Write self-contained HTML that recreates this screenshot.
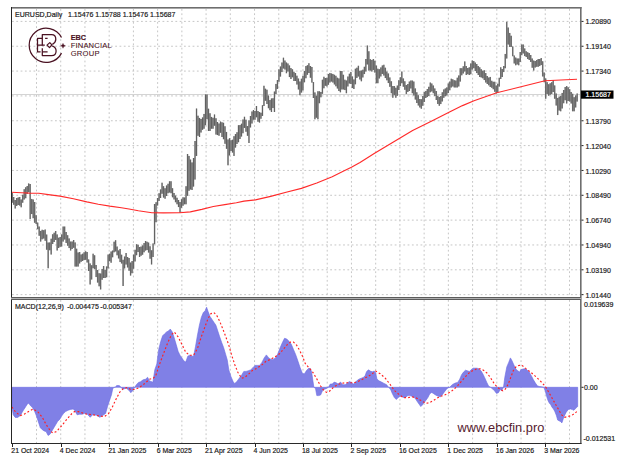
<!DOCTYPE html>
<html><head><meta charset="utf-8"><style>
html,body{margin:0;padding:0;background:#fff;width:625px;height:465px;overflow:hidden}
svg text{font-family:"Liberation Sans",sans-serif}
</style></head><body>
<svg width="625" height="465" viewBox="0 0 625 465" style="position:absolute;left:0;top:0">
<g stroke="#c6c6c6" stroke-width="1" stroke-dasharray="1.8 2.5" fill="none"><line x1="36.5" y1="9" x2="36.5" y2="297" /><line x1="36.5" y1="300" x2="36.5" y2="443" /><line x1="60.72" y1="9" x2="60.72" y2="297" /><line x1="60.72" y1="300" x2="60.72" y2="443" /><line x1="84.95" y1="9" x2="84.95" y2="297" /><line x1="84.95" y1="300" x2="84.95" y2="443" /><line x1="109.18" y1="9" x2="109.18" y2="297" /><line x1="109.18" y1="300" x2="109.18" y2="443" /><line x1="133.41" y1="9" x2="133.41" y2="297" /><line x1="133.41" y1="300" x2="133.41" y2="443" /><line x1="157.63" y1="9" x2="157.63" y2="297" /><line x1="157.63" y1="300" x2="157.63" y2="443" /><line x1="181.86" y1="9" x2="181.86" y2="297" /><line x1="181.86" y1="300" x2="181.86" y2="443" /><line x1="206.09" y1="9" x2="206.09" y2="297" /><line x1="206.09" y1="300" x2="206.09" y2="443" /><line x1="230.31" y1="9" x2="230.31" y2="297" /><line x1="230.31" y1="300" x2="230.31" y2="443" /><line x1="254.54" y1="9" x2="254.54" y2="297" /><line x1="254.54" y1="300" x2="254.54" y2="443" /><line x1="278.77" y1="9" x2="278.77" y2="297" /><line x1="278.77" y1="300" x2="278.77" y2="443" /><line x1="302.99" y1="9" x2="302.99" y2="297" /><line x1="302.99" y1="300" x2="302.99" y2="443" /><line x1="327.22" y1="9" x2="327.22" y2="297" /><line x1="327.22" y1="300" x2="327.22" y2="443" /><line x1="351.45" y1="9" x2="351.45" y2="297" /><line x1="351.45" y1="300" x2="351.45" y2="443" /><line x1="375.68" y1="9" x2="375.68" y2="297" /><line x1="375.68" y1="300" x2="375.68" y2="443" /><line x1="399.9" y1="9" x2="399.9" y2="297" /><line x1="399.9" y1="300" x2="399.9" y2="443" /><line x1="424.13" y1="9" x2="424.13" y2="297" /><line x1="424.13" y1="300" x2="424.13" y2="443" /><line x1="448.36" y1="9" x2="448.36" y2="297" /><line x1="448.36" y1="300" x2="448.36" y2="443" /><line x1="472.58" y1="9" x2="472.58" y2="297" /><line x1="472.58" y1="300" x2="472.58" y2="443" /><line x1="496.81" y1="9" x2="496.81" y2="297" /><line x1="496.81" y1="300" x2="496.81" y2="443" /><line x1="521.04" y1="9" x2="521.04" y2="297" /><line x1="521.04" y1="300" x2="521.04" y2="443" /><line x1="545.26" y1="9" x2="545.26" y2="297" /><line x1="545.26" y1="300" x2="545.26" y2="443" /><line x1="569.49" y1="9" x2="569.49" y2="297" /><line x1="569.49" y1="300" x2="569.49" y2="443" /><line x1="12" y1="21.4" x2="580" y2="21.4" /><line x1="12" y1="46.24" x2="580" y2="46.24" /><line x1="12" y1="71.08" x2="580" y2="71.08" /><line x1="12" y1="95.92" x2="580" y2="95.92" /><line x1="12" y1="120.76" x2="580" y2="120.76" /><line x1="12" y1="145.6" x2="580" y2="145.6" /><line x1="12" y1="170.44" x2="580" y2="170.44" /><line x1="12" y1="195.28" x2="580" y2="195.28" /><line x1="12" y1="220.12" x2="580" y2="220.12" /><line x1="12" y1="244.96" x2="580" y2="244.96" /><line x1="12" y1="269.8" x2="580" y2="269.8" /><line x1="12" y1="294.64" x2="580" y2="294.64" /></g>
<line x1="12" y1="94.5" x2="580" y2="94.5" stroke="#d4d4d4" stroke-width="1"/>
<polygon points="11.9,387.3 11.9,407.0 13.2,414.8 15.2,417.4 17.7,417.4 20.3,415.5 22.9,411.0 25.5,407.0 27.4,403.9 28.7,403.2 30.6,405.8 32.6,407.7 34.5,411.0 36.5,416.1 38.4,421.9 40.3,427.7 42.3,429.7 44.2,431.0 46.1,431.6 48.1,435.5 50.0,434.2 51.9,431.0 53.9,427.7 55.8,424.5 57.7,421.3 59.7,419.4 61.6,416.1 63.5,413.5 65.5,411.6 68.0,410.3 70.6,409.4 73.2,409.0 75.2,411.0 77.1,414.8 79.7,414.2 82.3,414.2 84.8,413.3 87.4,414.3 90.2,417.3 92.7,414.7 96.6,415.3 99.8,417.3 103.0,415.3 105.6,413.4 107.6,406.3 109.5,400.5 111.5,394.7 112.7,388.9 114.0,387.3 115.3,387.3 116.6,385.6 119.2,385.6 121.1,387.3 122.4,388.9 123.7,388.9 126.3,388.2 128.9,390.2 130.8,392.7 132.7,390.8 134.7,387.3 136.6,384.4 138.5,382.4 140.5,381.8 143.1,379.8 145.6,379.2 147.6,377.3 149.5,381.1 151.0,381.4 152.9,382.3 154.8,369.7 156.8,363.9 158.7,349.4 160.7,341.6 162.6,335.8 164.5,333.9 166.5,332.0 168.4,331.0 170.3,329.1 172.3,332.0 174.2,337.8 176.2,344.6 178.1,351.3 180.0,355.2 182.0,358.1 183.9,361.0 185.8,362.0 187.8,356.2 189.7,355.2 191.6,356.2 193.6,356.2 195.5,346.5 197.5,334.9 199.4,325.2 201.3,317.4 203.3,312.6 205.2,310.7 206.6,307.2 208.1,311.6 210.0,316.5 212.0,319.4 213.9,322.3 215.9,325.2 217.8,331.0 219.7,336.8 221.7,342.6 223.6,347.5 225.8,354.9 227.3,360.1 228.8,369.9 231.0,376.7 233.3,382.0 234.8,383.5 237.1,381.2 239.3,378.2 241.6,375.2 243.8,371.4 246.1,371.4 248.4,370.7 250.6,369.9 252.9,367.7 255.1,365.4 257.4,365.4 259.7,365.4 261.9,362.4 264.2,357.9 266.4,354.9 268.7,357.9 271.0,359.4 273.2,359.4 275.5,357.9 277.7,354.1 280.0,348.1 282.3,342.8 284.5,338.3 286.8,339.0 289.0,341.3 291.3,344.3 293.5,349.6 295.8,354.9 298.1,361.6 300.0,367.3 301.3,370.5 302.6,373.7 304.5,373.7 306.5,370.5 308.4,368.5 310.3,368.5 311.6,371.8 312.9,380.8 313.9,387.3 315.5,388.5 316.8,395.6 318.7,395.6 320.6,395.0 322.6,390.5 324.5,389.2 326.5,388.5 328.4,387.3 330.3,384.0 332.3,384.0 334.2,382.1 336.1,382.7 338.1,384.0 340.6,382.1 342.6,384.7 345.2,384.7 347.7,382.7 349.7,381.5 351.6,382.7 353.5,384.0 355.5,382.1 357.4,380.2 359.4,378.9 361.3,378.2 363.2,377.6 365.2,375.6 366.5,371.8 368.4,369.8 370.3,371.1 372.3,371.8 374.2,371.1 375.6,372.4 376.9,378.9 378.9,380.8 381.5,382.1 384.0,383.4 386.6,384.7 388.5,387.3 390.5,389.2 392.4,393.7 394.4,397.6 396.3,399.5 398.2,397.6 400.2,396.3 402.1,396.9 404.0,397.6 406.0,396.9 407.9,395.6 409.8,395.6 411.8,396.3 413.7,396.9 415.6,398.9 417.6,402.1 419.5,404.7 420.8,406.6 422.1,405.3 424.0,402.7 426.0,400.2 427.9,397.6 429.8,393.7 431.8,392.4 433.7,393.7 435.6,395.0 438.2,396.3 440.2,396.9 442.1,395.0 444.0,392.4 446.0,389.8 447.9,387.9 449.8,387.3 450.6,386.3 452.6,384.4 455.2,383.1 457.7,382.4 459.7,379.2 461.6,374.7 463.5,372.1 465.5,370.2 467.4,370.8 469.4,371.5 471.3,369.5 473.2,368.2 475.2,368.2 477.1,368.2 479.0,368.9 481.0,370.8 482.9,374.0 484.8,377.9 486.8,382.4 488.7,386.3 490.6,387.3 492.6,388.9 494.5,390.8 496.5,393.4 498.4,392.7 500.3,389.5 501.6,390.8 503.5,387.3 504.8,377.3 506.8,366.9 508.7,362.4 510.4,357.9 511.9,360.5 513.9,365.0 515.8,368.9 517.7,370.8 519.7,372.1 520.7,369.8 522.8,369.1 524.9,368.7 527.0,369.8 529.1,371.9 531.2,375.4 533.3,379.6 535.4,383.1 537.5,385.9 539.6,386.6 541.7,386.8 543.8,387.3 545.2,390.8 546.6,396.3 548.0,400.5 549.4,403.3 550.8,404.7 552.1,407.5 553.5,408.9 554.9,411.7 556.3,415.2 557.7,420.1 559.1,420.8 560.5,421.5 561.9,422.9 563.3,418.7 564.7,415.2 566.1,412.4 568.2,409.6 570.3,408.9 572.4,409.6 573.8,410.3 575.2,408.9 576.6,407.5 577.7,406.5 577.7,387.3" fill="#8080e6" stroke="#6a6ae4" stroke-width="0.6"/>
<polyline points="11.9,407.0 15.8,412.3 20.3,415.5 24.2,414.2 29.4,411.0 33.2,409.0 37.7,411.6 42.3,417.4 46.1,424.5 50.0,430.3 52.6,432.9 56.5,431.6 61.6,425.8 66.8,419.4 71.9,413.5 74.5,411.6 78.4,411.6 82.3,412.9 86.3,414.0 92.7,414.7 99.2,416.0 104.4,416.6 108.2,414.0 112.1,407.6 116.0,399.2 119.8,392.1 123.7,388.2 127.6,387.6 130.8,389.5 134.7,389.5 139.2,387.6 144.4,383.7 149.5,379.2 153.4,378.2 155.8,375.5 159.7,363.9 163.6,353.3 167.4,343.6 171.3,334.9 174.2,332.0 178.1,336.8 182.0,344.6 185.8,352.3 189.7,355.2 193.6,355.2 197.5,348.4 201.3,336.8 205.2,326.1 208.1,318.4 211.0,313.6 213.9,312.6 216.8,315.5 219.7,321.3 223.6,331.0 226.5,338.7 228.8,345.1 231.8,355.6 234.8,364.7 237.8,372.2 241.6,378.2 244.6,377.5 248.4,374.4 252.1,370.7 256.6,368.4 261.2,365.4 265.7,361.6 270.2,359.4 274.7,357.1 279.2,354.1 283.8,348.8 287.5,344.3 290.5,342.1 293.5,342.1 296.6,345.1 299.6,350.3 302.6,356.4 305.2,363.4 309.0,367.9 312.9,372.4 316.8,378.9 320.6,386.0 323.9,390.5 326.5,392.4 329.7,391.1 333.5,387.3 337.4,384.7 341.3,383.4 345.2,382.7 349.0,382.7 352.9,382.7 356.8,382.1 360.6,380.2 364.5,378.2 368.4,376.3 372.3,373.7 375.6,371.1 380.2,373.7 385.3,378.2 389.8,384.0 394.4,390.5 398.9,394.4 403.4,397.6 407.9,397.6 412.4,396.9 416.9,398.2 421.5,400.8 426.0,403.4 429.2,402.7 433.1,400.8 436.9,398.2 440.8,396.3 444.7,395.0 448.5,393.1 452.4,390.5 455.8,387.5 457.7,385.6 461.6,381.1 465.5,376.6 469.4,372.7 473.2,370.2 477.1,368.9 480.3,368.9 483.5,370.2 487.4,373.4 490.6,377.9 493.9,383.1 497.1,386.9 500.3,389.5 502.9,390.8 505.5,388.9 508.1,384.4 510.6,377.9 513.2,370.8 515.8,367.0 518.4,365.6 521.6,365.0 525.6,368.4 531.2,372.6 536.8,377.5 542.4,383.1 545.9,387.3 548.7,392.2 551.5,397.0 554.2,401.9 557.0,406.8 559.8,411.7 561.9,415.2 564.7,417.3 567.5,416.6 570.3,415.9 573.1,414.5 575.9,412.4 577.7,411.0" stroke="#ff2020" stroke-width="1.15" fill="none" stroke-dasharray="1.9 2.1"/>
<path d="M12.20 193.0V202.7M13.70 197.0V204.7M15.20 200.0V208.5M16.70 198.0V206.0M18.19 197.4V205.0M19.69 197.0V205.6M21.19 199.5V207.3M22.69 194.8V202.7M24.19 189.2V199.5M25.69 187.3V198.2M27.19 186.0V193.9M28.68 183.4V192.1M30.18 184.0V218.9M31.68 198.9V214.1M33.18 199.5V218.2M34.68 202.0V222.7M36.18 215.3V224.0M37.68 222.6V229.2M39.17 226.6V235.8M40.67 230.9V241.6M42.17 229.8V239.3M43.67 230.2V238.5M45.17 229.5V240.8M46.67 234.6V249.7M48.17 242.6V268.2M49.66 242.4V250.2M51.16 238.7V254.5M52.66 234.3V244.0M54.16 232.7V242.0M55.66 231.0V239.9M57.16 234.4V250.5M58.66 237.7V248.0M60.16 237.0V246.8M61.65 234.4V246.5M63.15 226.6V241.6M64.65 226.6V239.5M66.15 232.0V242.9M67.65 235.2V245.7M69.15 238.4V248.1M70.65 241.6V250.5M72.14 241.6V249.0M73.64 240.0V247.8M75.14 242.4V266.6M76.64 248.7V266.6M78.14 252.5V266.6M79.64 252.0V263.4M81.14 254.5V261.8M82.63 253.7V261.0M84.13 252.3V260.1M85.63 251.3V259.8M87.13 252.0V262.5M88.63 259.4V271.0M90.13 263.4V284.4M91.63 265.2V279.5M93.12 253.7V268.2M94.62 255.3V268.9M96.12 265.0V277.1M97.62 270.0V282.6M99.12 273.2V286.3M100.62 273.5V289.4M102.12 268.9V279.7M103.61 266.0V278.0M105.11 269.8V278.0M106.61 266.4V277.3M108.11 254.6V268.4M109.61 253.7V261.2M111.11 251.5V262.7M112.61 250.6V257.3M114.10 241.7V252.3M115.60 240.2V251.4M117.10 246.6V255.3M118.60 250.4V258.4M120.10 249.0V262.1M121.60 254.7V263.5M123.10 259.8V286.0M124.59 256.6V268.4M126.09 253.0V264.5M127.59 257.0V267.4M129.09 258.0V270.7M130.59 262.6V275.6M132.09 261.1V273.2M133.59 254.7V268.7M135.09 249.8V261.4M136.58 244.2V255.2M138.08 244.8V252.1M139.58 247.0V257.0M141.08 246.6V255.7M142.58 245.4V254.7M144.08 243.1V252.3M145.58 241.0V250.6M147.07 241.8V250.1M148.57 242.6V252.6M150.07 246.3V258.7M151.57 250.3V264.4M153.07 243.4V257.0M154.57 204.0V244.2M156.07 202.2V222.2M157.56 198.0V205.5M159.06 193.2V200.9M160.56 189.4V198.0M162.06 182.7V193.7M163.56 186.2V197.6M165.06 188.3V198.7M166.56 185.5V196.0M168.05 183.8V193.2M169.55 181.3V192.5M171.05 181.3V193.2M172.55 188.2V197.3M174.05 193.0V199.4M175.55 195.6V202.2M177.05 197.8V204.3M178.54 200.0V207.1M180.04 202.1V212.7M181.54 199.2V207.8M183.04 197.3V205.7M184.54 197.5V204.3M186.04 186.2V204.3M187.54 154.0V195.8M189.03 155.9V190.8M190.53 159.6V189.4M192.03 162.4V190.0M193.53 158.0V186.6M195.03 141.0V179.5M196.53 108.6V155.9M198.03 115.7V135.8M199.52 117.9V137.0M201.02 119.0V132.5M202.52 117.4V129.8M204.02 113.9V128.7M205.52 94.4V125.2M207.02 94.4V119.3M208.52 108.7V131.0M210.02 113.3V131.0M211.51 116.9V128.7M213.01 117.8V128.7M214.51 114.5V125.7M216.01 118.3V134.6M217.51 122.0V135.1M219.01 123.5V135.8M220.51 121.6V132.8M222.00 122.3V137.0M223.50 122.8V139.2M225.00 126.3V143.8M226.50 131.9V148.8M228.00 139.5V165.3M229.50 138.2V155.4M231.00 140.2V151.0M232.49 139.7V152.6M233.99 136.2V155.9M235.49 134.1V147.6M236.99 132.2V144.0M238.49 125.2V142.2M239.99 125.1V139.0M241.49 123.7V136.5M242.98 119.5V133.2M244.48 116.8V127.9M245.98 119.7V131.7M247.48 126.1V135.8M248.98 120.4V143.0M250.48 116.0V127.4M251.98 111.5V123.5M253.47 110.0V119.7M254.97 111.0V119.7M256.47 106.0V117.3M257.97 111.0V121.7M259.47 112.0V122.6M260.97 112.7V118.7M262.47 105.2V115.9M263.96 85.8V106.0M265.46 88.7V100.8M266.96 89.7V104.0M268.46 95.5V108.2M269.96 100.1V110.2M271.46 98.4V112.0M272.96 98.2V108.1M274.45 91.6V112.0M275.95 83.9V94.1M277.45 80.0V88.9M278.95 69.4V81.7M280.45 66.5V76.6M281.95 62.6V72.1M283.45 57.7V68.5M284.95 60.6V69.5M286.44 62.5V73.2M287.94 63.5V71.4M289.44 65.4V77.1M290.94 68.1V79.0M292.44 69.3V77.3M293.94 71.8V81.0M295.44 73.0V81.0M296.93 75.7V84.5M298.43 78.6V89.4M299.93 81.5V95.2M301.43 78.7V92.6M302.93 75.8V90.5M304.43 71.0V82.3M305.93 66.1V78.2M307.42 65.2V74.8M308.92 63.2V73.0M310.42 66.0V77.7M311.92 67.0V82.6M313.42 82.1V98.0M314.92 92.4V119.3M316.42 95.6V117.7M317.91 91.3V119.3M319.41 91.3V103.2M320.91 92.0V97.3M322.41 79.7V93.8M323.91 76.8V88.3M325.41 78.0V85.8M326.91 77.7V86.4M328.40 73.9V84.8M329.90 72.9V82.5M331.40 73.4V81.6M332.90 73.9V82.5M334.40 74.8V84.4M335.90 75.8V86.3M337.40 77.7V88.5M338.89 78.4V91.0M340.39 71.0V92.3M341.89 71.0V89.4M343.39 74.8V89.4M344.89 79.7V90.1M346.39 80.5V93.2M347.89 76.6V86.4M349.38 73.7V83.5M350.88 71.9V84.0M352.38 76.4V88.1M353.88 79.4V89.0M355.38 68.7V84.3M356.88 67.7V77.9M358.38 65.8V76.5M359.88 70.8V79.4M361.37 70.6V81.3M362.87 69.7V77.4M364.37 66.8V74.1M365.87 59.0V71.4M367.37 45.5V64.4M368.87 51.3V70.6M370.37 59.2V70.6M371.86 60.0V71.6M373.36 59.0V69.9M374.86 60.7V72.6M376.36 65.6V83.2M377.86 68.7V83.2M379.36 69.2V78.4M380.86 67.4V76.4M382.35 65.4V73.9M383.85 64.8V75.6M385.35 67.7V78.1M386.85 71.6V80.3M388.35 73.5V83.1M389.85 77.4V86.8M391.35 81.3V93.2M392.84 86.1V97.7M394.34 86.1V95.2M395.84 87.8V97.7M397.34 85.6V95.8M398.84 80.2V90.0M400.34 77.2V86.1M401.84 71.6V83.2M403.33 78.4V86.7M404.83 81.3V89.8M406.33 85.1V93.9M407.83 84.0V91.9M409.33 81.6V91.0M410.83 80.6V88.4M412.33 80.6V93.2M413.82 81.6V95.4M415.32 88.4V99.6M416.82 92.3V103.0M418.32 95.2V105.5M419.82 99.0V107.4M421.32 99.2V108.7M422.82 95.9V105.8M424.31 92.1V101.9M425.81 90.9V98.0M427.31 89.1V97.1M428.81 86.8V96.1M430.31 82.6V92.3M431.81 83.5V91.4M433.31 85.5V93.2M434.81 88.4V96.1M436.30 91.1V100.0M437.80 95.8V103.9M439.30 97.0V105.8M440.80 96.1V104.1M442.30 92.3V101.4M443.80 89.4V97.8M445.30 88.4V96.3M446.79 87.4V95.4M448.29 83.5V93.1M449.79 81.6V90.3M451.29 78.7V87.4M452.79 79.3V86.4M454.29 80.2V87.4M455.79 80.6V87.4M457.28 77.7V87.4M458.78 75.4V86.4M460.28 68.2V81.6M461.78 68.2V75.3M463.28 66.3V73.4M464.78 61.4V71.4M466.28 66.1V75.0M467.77 68.0V74.2M469.27 67.3V75.0M470.77 63.4V74.3M472.27 60.5V69.5M473.77 61.1V68.2M475.27 62.6V71.1M476.77 64.0V73.1M478.26 66.0V75.0M479.76 67.3V77.0M481.26 69.2V77.4M482.76 70.7V78.3M484.26 70.2V80.1M485.76 73.1V82.5M487.26 76.0V84.0M488.75 77.6V85.3M490.25 76.9V86.9M491.75 80.8V87.8M493.25 81.8V89.2M494.75 81.8V91.8M496.25 85.5V93.4M497.75 83.8V92.4M499.24 77.8V86.6M500.74 67.3V78.9M502.24 69.1V77.0M503.74 66.0V72.1M505.24 53.9V68.2M506.74 21.8V58.5M508.24 27.6V44.5M509.74 32.9V46.9M511.23 35.8V46.9M512.73 46.4V56.2M514.23 55.6V63.4M515.73 57.6V65.3M517.23 58.5V64.4M518.73 58.5V65.3M520.23 52.0V61.9M521.72 44.5V55.2M523.22 44.5V53.4M524.72 48.4V56.1M526.22 51.3V57.1M527.72 52.2V59.0M529.22 53.1V60.0M530.72 55.0V61.9M532.21 58.5V67.7M533.71 60.6V70.6M535.21 61.0V67.5M536.71 60.0V66.8M538.21 59.0V66.8M539.71 59.0V66.1M541.21 58.0V65.1M542.70 61.3V76.4M544.20 72.6V82.2M545.70 78.4V98.7M547.20 82.2V93.9M548.70 84.2V95.8M550.20 83.2V94.8M551.70 82.2V93.9M553.19 80.3V92.0M554.69 85.4V98.7M556.19 93.6V105.5M557.69 97.9V115.1M559.19 96.7V110.5M560.69 95.8V111.3M562.19 92.9V108.4M563.68 90.0V103.2M565.18 87.1V100.2M566.68 86.1V103.5M568.18 87.3V101.1M569.68 89.2V101.6M571.18 92.1V103.5M572.68 93.8V111.3M574.17 97.2V111.3M575.67 95.4V107.4M577.17 93.5V101.6" stroke="#9c9c9c" stroke-width="1.5" fill="none"/><path d="M12.20 193.0V202.7M13.70 197.0V204.7M15.20 200.0V208.5M16.70 198.0V206.0M18.19 197.4V205.0M19.69 197.0V205.6M21.19 199.5V207.3M22.69 194.8V202.7M24.19 189.2V199.5M25.69 187.3V198.2M27.19 186.0V193.9M28.68 183.4V192.1M30.18 184.0V218.9M31.68 198.9V214.1M33.18 199.5V218.2M34.68 202.0V222.7M36.18 215.3V224.0M37.68 222.6V229.2M39.17 226.6V235.8M40.67 230.9V241.6M42.17 229.8V239.3M43.67 230.2V238.5M45.17 229.5V240.8M46.67 234.6V249.7M48.17 242.6V268.2M49.66 242.4V250.2M51.16 238.7V254.5M52.66 234.3V244.0M54.16 232.7V242.0M55.66 231.0V239.9M57.16 234.4V250.5M58.66 237.7V248.0M60.16 237.0V246.8M61.65 234.4V246.5M63.15 226.6V241.6M64.65 226.6V239.5M66.15 232.0V242.9M67.65 235.2V245.7M69.15 238.4V248.1M70.65 241.6V250.5M72.14 241.6V249.0M73.64 240.0V247.8M75.14 242.4V266.6M76.64 248.7V266.6M78.14 252.5V266.6M79.64 252.0V263.4M81.14 254.5V261.8M82.63 253.7V261.0M84.13 252.3V260.1M85.63 251.3V259.8M87.13 252.0V262.5M88.63 259.4V271.0M90.13 263.4V284.4M91.63 265.2V279.5M93.12 253.7V268.2M94.62 255.3V268.9M96.12 265.0V277.1M97.62 270.0V282.6M99.12 273.2V286.3M100.62 273.5V289.4M102.12 268.9V279.7M103.61 266.0V278.0M105.11 269.8V278.0M106.61 266.4V277.3M108.11 254.6V268.4M109.61 253.7V261.2M111.11 251.5V262.7M112.61 250.6V257.3M114.10 241.7V252.3M115.60 240.2V251.4M117.10 246.6V255.3M118.60 250.4V258.4M120.10 249.0V262.1M121.60 254.7V263.5M123.10 259.8V286.0M124.59 256.6V268.4M126.09 253.0V264.5M127.59 257.0V267.4M129.09 258.0V270.7M130.59 262.6V275.6M132.09 261.1V273.2M133.59 254.7V268.7M135.09 249.8V261.4M136.58 244.2V255.2M138.08 244.8V252.1M139.58 247.0V257.0M141.08 246.6V255.7M142.58 245.4V254.7M144.08 243.1V252.3M145.58 241.0V250.6M147.07 241.8V250.1M148.57 242.6V252.6M150.07 246.3V258.7M151.57 250.3V264.4M153.07 243.4V257.0M154.57 204.0V244.2M156.07 202.2V222.2M157.56 198.0V205.5M159.06 193.2V200.9M160.56 189.4V198.0M162.06 182.7V193.7M163.56 186.2V197.6M165.06 188.3V198.7M166.56 185.5V196.0M168.05 183.8V193.2M169.55 181.3V192.5M171.05 181.3V193.2M172.55 188.2V197.3M174.05 193.0V199.4M175.55 195.6V202.2M177.05 197.8V204.3M178.54 200.0V207.1M180.04 202.1V212.7M181.54 199.2V207.8M183.04 197.3V205.7M184.54 197.5V204.3M186.04 186.2V204.3M187.54 154.0V195.8M189.03 155.9V190.8M190.53 159.6V189.4M192.03 162.4V190.0M193.53 158.0V186.6M195.03 141.0V179.5M196.53 108.6V155.9M198.03 115.7V135.8M199.52 117.9V137.0M201.02 119.0V132.5M202.52 117.4V129.8M204.02 113.9V128.7M205.52 94.4V125.2M207.02 94.4V119.3M208.52 108.7V131.0M210.02 113.3V131.0M211.51 116.9V128.7M213.01 117.8V128.7M214.51 114.5V125.7M216.01 118.3V134.6M217.51 122.0V135.1M219.01 123.5V135.8M220.51 121.6V132.8M222.00 122.3V137.0M223.50 122.8V139.2M225.00 126.3V143.8M226.50 131.9V148.8M228.00 139.5V165.3M229.50 138.2V155.4M231.00 140.2V151.0M232.49 139.7V152.6M233.99 136.2V155.9M235.49 134.1V147.6M236.99 132.2V144.0M238.49 125.2V142.2M239.99 125.1V139.0M241.49 123.7V136.5M242.98 119.5V133.2M244.48 116.8V127.9M245.98 119.7V131.7M247.48 126.1V135.8M248.98 120.4V143.0M250.48 116.0V127.4M251.98 111.5V123.5M253.47 110.0V119.7M254.97 111.0V119.7M256.47 106.0V117.3M257.97 111.0V121.7M259.47 112.0V122.6M260.97 112.7V118.7M262.47 105.2V115.9M263.96 85.8V106.0M265.46 88.7V100.8M266.96 89.7V104.0M268.46 95.5V108.2M269.96 100.1V110.2M271.46 98.4V112.0M272.96 98.2V108.1M274.45 91.6V112.0M275.95 83.9V94.1M277.45 80.0V88.9M278.95 69.4V81.7M280.45 66.5V76.6M281.95 62.6V72.1M283.45 57.7V68.5M284.95 60.6V69.5M286.44 62.5V73.2M287.94 63.5V71.4M289.44 65.4V77.1M290.94 68.1V79.0M292.44 69.3V77.3M293.94 71.8V81.0M295.44 73.0V81.0M296.93 75.7V84.5M298.43 78.6V89.4M299.93 81.5V95.2M301.43 78.7V92.6M302.93 75.8V90.5M304.43 71.0V82.3M305.93 66.1V78.2M307.42 65.2V74.8M308.92 63.2V73.0M310.42 66.0V77.7M311.92 67.0V82.6M313.42 82.1V98.0M314.92 92.4V119.3M316.42 95.6V117.7M317.91 91.3V119.3M319.41 91.3V103.2M320.91 92.0V97.3M322.41 79.7V93.8M323.91 76.8V88.3M325.41 78.0V85.8M326.91 77.7V86.4M328.40 73.9V84.8M329.90 72.9V82.5M331.40 73.4V81.6M332.90 73.9V82.5M334.40 74.8V84.4M335.90 75.8V86.3M337.40 77.7V88.5M338.89 78.4V91.0M340.39 71.0V92.3M341.89 71.0V89.4M343.39 74.8V89.4M344.89 79.7V90.1M346.39 80.5V93.2M347.89 76.6V86.4M349.38 73.7V83.5M350.88 71.9V84.0M352.38 76.4V88.1M353.88 79.4V89.0M355.38 68.7V84.3M356.88 67.7V77.9M358.38 65.8V76.5M359.88 70.8V79.4M361.37 70.6V81.3M362.87 69.7V77.4M364.37 66.8V74.1M365.87 59.0V71.4M367.37 45.5V64.4M368.87 51.3V70.6M370.37 59.2V70.6M371.86 60.0V71.6M373.36 59.0V69.9M374.86 60.7V72.6M376.36 65.6V83.2M377.86 68.7V83.2M379.36 69.2V78.4M380.86 67.4V76.4M382.35 65.4V73.9M383.85 64.8V75.6M385.35 67.7V78.1M386.85 71.6V80.3M388.35 73.5V83.1M389.85 77.4V86.8M391.35 81.3V93.2M392.84 86.1V97.7M394.34 86.1V95.2M395.84 87.8V97.7M397.34 85.6V95.8M398.84 80.2V90.0M400.34 77.2V86.1M401.84 71.6V83.2M403.33 78.4V86.7M404.83 81.3V89.8M406.33 85.1V93.9M407.83 84.0V91.9M409.33 81.6V91.0M410.83 80.6V88.4M412.33 80.6V93.2M413.82 81.6V95.4M415.32 88.4V99.6M416.82 92.3V103.0M418.32 95.2V105.5M419.82 99.0V107.4M421.32 99.2V108.7M422.82 95.9V105.8M424.31 92.1V101.9M425.81 90.9V98.0M427.31 89.1V97.1M428.81 86.8V96.1M430.31 82.6V92.3M431.81 83.5V91.4M433.31 85.5V93.2M434.81 88.4V96.1M436.30 91.1V100.0M437.80 95.8V103.9M439.30 97.0V105.8M440.80 96.1V104.1M442.30 92.3V101.4M443.80 89.4V97.8M445.30 88.4V96.3M446.79 87.4V95.4M448.29 83.5V93.1M449.79 81.6V90.3M451.29 78.7V87.4M452.79 79.3V86.4M454.29 80.2V87.4M455.79 80.6V87.4M457.28 77.7V87.4M458.78 75.4V86.4M460.28 68.2V81.6M461.78 68.2V75.3M463.28 66.3V73.4M464.78 61.4V71.4M466.28 66.1V75.0M467.77 68.0V74.2M469.27 67.3V75.0M470.77 63.4V74.3M472.27 60.5V69.5M473.77 61.1V68.2M475.27 62.6V71.1M476.77 64.0V73.1M478.26 66.0V75.0M479.76 67.3V77.0M481.26 69.2V77.4M482.76 70.7V78.3M484.26 70.2V80.1M485.76 73.1V82.5M487.26 76.0V84.0M488.75 77.6V85.3M490.25 76.9V86.9M491.75 80.8V87.8M493.25 81.8V89.2M494.75 81.8V91.8M496.25 85.5V93.4M497.75 83.8V92.4M499.24 77.8V86.6M500.74 67.3V78.9M502.24 69.1V77.0M503.74 66.0V72.1M505.24 53.9V68.2M506.74 21.8V58.5M508.24 27.6V44.5M509.74 32.9V46.9M511.23 35.8V46.9M512.73 46.4V56.2M514.23 55.6V63.4M515.73 57.6V65.3M517.23 58.5V64.4M518.73 58.5V65.3M520.23 52.0V61.9M521.72 44.5V55.2M523.22 44.5V53.4M524.72 48.4V56.1M526.22 51.3V57.1M527.72 52.2V59.0M529.22 53.1V60.0M530.72 55.0V61.9M532.21 58.5V67.7M533.71 60.6V70.6M535.21 61.0V67.5M536.71 60.0V66.8M538.21 59.0V66.8M539.71 59.0V66.1M541.21 58.0V65.1M542.70 61.3V76.4M544.20 72.6V82.2M545.70 78.4V98.7M547.20 82.2V93.9M548.70 84.2V95.8M550.20 83.2V94.8M551.70 82.2V93.9M553.19 80.3V92.0M554.69 85.4V98.7M556.19 93.6V105.5M557.69 97.9V115.1M559.19 96.7V110.5M560.69 95.8V111.3M562.19 92.9V108.4M563.68 90.0V103.2M565.18 87.1V100.2M566.68 86.1V103.5M568.18 87.3V101.1M569.68 89.2V101.6M571.18 92.1V103.5M572.68 93.8V111.3M574.17 97.2V111.3M575.67 95.4V107.4M577.17 93.5V101.6" stroke="#464646" stroke-width="0.7" fill="none"/>
<polyline points="11.5,192.3 21.5,192.7 29.2,193.1 38.8,193.3 48.4,194.6 59.9,196.1 73.4,198.8 86.8,201.9 98.3,204.2 109.8,206.1 121.4,207.7 129.0,209.0 138.4,210.7 151.9,212.7 163.4,212.9 179.7,212.7 190.3,211.9 201.8,209.4 213.3,206.5 224.8,204.6 236.4,202.7 244.0,201.1 255.4,199.9 270.7,196.4 286.1,192.2 301.4,188.4 316.8,183.0 332.2,176.8 343.7,171.1 351.4,167.2 360.0,162.4 374.2,153.6 393.4,142.0 412.6,130.5 431.8,120.9 451.0,111.3 462.5,105.6 474.0,100.8 496.8,92.8 520.0,87.0 545.0,80.7 577.0,79.3" stroke="#ff2a2a" stroke-width="1.15" fill="none" stroke-linejoin="round"/>
<rect x="11" y="7" width="570.5" height="1.6" fill="#6e6e6e"/><rect x="11" y="7" width="1" height="437" fill="#262626"/><rect x="580" y="7" width="1.6" height="437" fill="#6e6e6e"/><rect x="11" y="297" width="570" height="1" fill="#5c5c5c"/><rect x="11" y="298" width="570" height="1" fill="#b0b0b0"/><rect x="11" y="299" width="570" height="1" fill="#5c5c5c"/><rect x="11" y="443" width="570.5" height="1" fill="#2a2a2a"/><rect x="581.5" y="20.90" width="2" height="1" fill="#222"/><rect x="581.5" y="45.74" width="2" height="1" fill="#222"/><rect x="581.5" y="70.58" width="2" height="1" fill="#222"/><rect x="581.5" y="95.42" width="2" height="1" fill="#222"/><rect x="581.5" y="120.26" width="2" height="1" fill="#222"/><rect x="581.5" y="145.10" width="2" height="1" fill="#222"/><rect x="581.5" y="169.94" width="2" height="1" fill="#222"/><rect x="581.5" y="194.78" width="2" height="1" fill="#222"/><rect x="581.5" y="219.62" width="2" height="1" fill="#222"/><rect x="581.5" y="244.46" width="2" height="1" fill="#222"/><rect x="581.5" y="269.30" width="2" height="1" fill="#222"/><rect x="581.5" y="294.14" width="2" height="1" fill="#222"/><rect x="581.5" y="386.8" width="2" height="1" fill="#222"/><rect x="12" y="444" width="1" height="3" fill="#222"/><rect x="61" y="444" width="1" height="3" fill="#222"/><rect x="109" y="444" width="1" height="3" fill="#222"/><rect x="158" y="444" width="1" height="3" fill="#222"/><rect x="206" y="444" width="1" height="3" fill="#222"/><rect x="255" y="444" width="1" height="3" fill="#222"/><rect x="303" y="444" width="1" height="3" fill="#222"/><rect x="351" y="444" width="1" height="3" fill="#222"/><rect x="400" y="444" width="1" height="3" fill="#222"/><rect x="448" y="444" width="1" height="3" fill="#222"/><rect x="497" y="444" width="1" height="3" fill="#222"/><rect x="545" y="444" width="1" height="3" fill="#222"/>
<rect x="581" y="90.5" width="32.5" height="8.2" fill="#000"/>
<g stroke="#4a1222" fill="none" stroke-width="1.25" stroke-linejoin="round">
<path d="M61.5 37.5 A17.1 17.1 0 1 0 61.5 53.1"/>
<path d="M42.3 45.4 V34.5 H51.6 C54.3 34.5 55.8 36.6 55.8 39.3 C55.8 41.6 54.6 43.2 52.4 44.4"/>
<path d="M52.2 45.9 C54.8 46.9 56.1 48.6 56.1 50.9 C56.1 53.7 54.2 55.5 51.6 55.5 H42.3 V48.2"/>
<path d="M42.3 38.4 H37.5 V51.9 H40.6 M37.5 45.1 H44.8"/>
<path d="M45.1 38.4 H47.6 M42.3 51.9 H47.6"/>
<path d="M47 45.1 L49.8 42.6 L51.9 44.9 L49.5 47.6 Z"/>
</g>
<path d="M63 43.3 L63.8 45.0 L65.5 45.8 L63.8 46.6 L63 48.3 L62.2 46.6 L60.5 45.8 L62.2 45.0 Z" fill="#4a1222" stroke="#4a1222" stroke-width="0.3"/>
<g font-family="Liberation Sans, sans-serif" fill="#4a1222" stroke="#4a1222">
<text x="70.7" y="39.6" font-size="7.3" font-weight="bold" stroke-width="0.15">EBC</text>
<text x="70.7" y="48" font-size="7.6" letter-spacing="0.16" stroke-width="0.08">FINANCIAL</text>
<text x="70.7" y="56.4" font-size="7.6" letter-spacing="0.27" stroke-width="0.08">GROUP</text>
</g>
<g font-family="Liberation Sans, sans-serif"><text transform="translate(15 17) scale(0.89 1)" font-size="7.9" fill="#1a1a1a" stroke="#1a1a1a" stroke-width="0.2" >EURUSD,Daily</text><text transform="translate(68 17) scale(0.89 1)" font-size="7.9" fill="#1a1a1a" stroke="#1a1a1a" stroke-width="0.2" >1.15476 1.15788 1.15476 1.15687</text><text transform="translate(15 309.2) scale(0.89 1)" font-size="7.9" fill="#1a1a1a" stroke="#1a1a1a" stroke-width="0.2" >MACD(12,26,9)</text><text transform="translate(67.2 309.2) scale(0.89 1)" font-size="7.9" fill="#1a1a1a" stroke="#1a1a1a" stroke-width="0.2" >-0.004475</text><text transform="translate(100.3 309.2) scale(0.89 1)" font-size="7.9" fill="#1a1a1a" stroke="#1a1a1a" stroke-width="0.2" >-0.005347</text><text transform="translate(585.5 24.0) scale(0.89 1)" font-size="7.9" fill="#1a1a1a" stroke="#1a1a1a" stroke-width="0.2" >1.20890</text><text transform="translate(585.5 48.900000000000006) scale(0.89 1)" font-size="7.9" fill="#1a1a1a" stroke="#1a1a1a" stroke-width="0.2" >1.19140</text><text transform="translate(585.5 73.8) scale(0.89 1)" font-size="7.9" fill="#1a1a1a" stroke="#1a1a1a" stroke-width="0.2" >1.17340</text><text transform="translate(585.5 123.7) scale(0.89 1)" font-size="7.9" fill="#1a1a1a" stroke="#1a1a1a" stroke-width="0.2" >1.13790</text><text transform="translate(585.5 148.6) scale(0.89 1)" font-size="7.9" fill="#1a1a1a" stroke="#1a1a1a" stroke-width="0.2" >1.12040</text><text transform="translate(585.5 173.5) scale(0.89 1)" font-size="7.9" fill="#1a1a1a" stroke="#1a1a1a" stroke-width="0.2" >1.10290</text><text transform="translate(585.5 198.39999999999998) scale(0.89 1)" font-size="7.9" fill="#1a1a1a" stroke="#1a1a1a" stroke-width="0.2" >1.08490</text><text transform="translate(585.5 223.39999999999998) scale(0.89 1)" font-size="7.9" fill="#1a1a1a" stroke="#1a1a1a" stroke-width="0.2" >1.06740</text><text transform="translate(585.5 248.29999999999998) scale(0.89 1)" font-size="7.9" fill="#1a1a1a" stroke="#1a1a1a" stroke-width="0.2" >1.04940</text><text transform="translate(585.5 273.2) scale(0.89 1)" font-size="7.9" fill="#1a1a1a" stroke="#1a1a1a" stroke-width="0.2" >1.03190</text><text transform="translate(585.5 298.09999999999997) scale(0.89 1)" font-size="7.9" fill="#1a1a1a" stroke="#1a1a1a" stroke-width="0.2" >1.01440</text><text transform="translate(584 307) scale(0.89 1)" font-size="7.9" fill="#1a1a1a" stroke="#1a1a1a" stroke-width="0.2" >0.019639</text><text transform="translate(584 390) scale(0.89 1)" font-size="7.9" fill="#1a1a1a" stroke="#1a1a1a" stroke-width="0.2" >0.00</text><text transform="translate(583.5 441.2) scale(0.89 1)" font-size="7.9" fill="#1a1a1a" stroke="#1a1a1a" stroke-width="0.2" >-0.012531</text><text transform="translate(11.27 452.9) scale(0.88 1)" font-size="7.9" fill="#1a1a1a" stroke="#1a1a1a" stroke-width="0.2" >21 Oct 2024</text><text transform="translate(59.724000000000004 452.9) scale(0.88 1)" font-size="7.9" fill="#1a1a1a" stroke="#1a1a1a" stroke-width="0.2" >4 Dec 2024</text><text transform="translate(108.178 452.9) scale(0.88 1)" font-size="7.9" fill="#1a1a1a" stroke="#1a1a1a" stroke-width="0.2" >21 Jan 2025</text><text transform="translate(156.632 452.9) scale(0.88 1)" font-size="7.9" fill="#1a1a1a" stroke="#1a1a1a" stroke-width="0.2" >6 Mar 2025</text><text transform="translate(205.086 452.9) scale(0.88 1)" font-size="7.9" fill="#1a1a1a" stroke="#1a1a1a" stroke-width="0.2" >21 Apr 2025</text><text transform="translate(253.54000000000002 452.9) scale(0.88 1)" font-size="7.9" fill="#1a1a1a" stroke="#1a1a1a" stroke-width="0.2" >4 Jun 2025</text><text transform="translate(301.99399999999997 452.9) scale(0.88 1)" font-size="7.9" fill="#1a1a1a" stroke="#1a1a1a" stroke-width="0.2" >18 Jul 2025</text><text transform="translate(350.448 452.9) scale(0.88 1)" font-size="7.9" fill="#1a1a1a" stroke="#1a1a1a" stroke-width="0.2" >2 Sep 2025</text><text transform="translate(398.902 452.9) scale(0.88 1)" font-size="7.9" fill="#1a1a1a" stroke="#1a1a1a" stroke-width="0.2" >16 Oct 2025</text><text transform="translate(447.356 452.9) scale(0.88 1)" font-size="7.9" fill="#1a1a1a" stroke="#1a1a1a" stroke-width="0.2" >1 Dec 2025</text><text transform="translate(495.81 452.9) scale(0.88 1)" font-size="7.9" fill="#1a1a1a" stroke="#1a1a1a" stroke-width="0.2" >16 Jan 2026</text><text transform="translate(544.264 452.9) scale(0.88 1)" font-size="7.9" fill="#1a1a1a" stroke="#1a1a1a" stroke-width="0.2" >3 Mar 2026</text><text transform="translate(585.5 97.2) scale(0.89 1)" font-size="7.9" fill="#fff" stroke="#fff" stroke-width="0.2" >1.15687</text><text x="457.5" y="431.6" font-size="12.8" fill="#561a2e" stroke-opacity="0">www.ebcfin.pro</text></g>
</svg>
</body></html>
